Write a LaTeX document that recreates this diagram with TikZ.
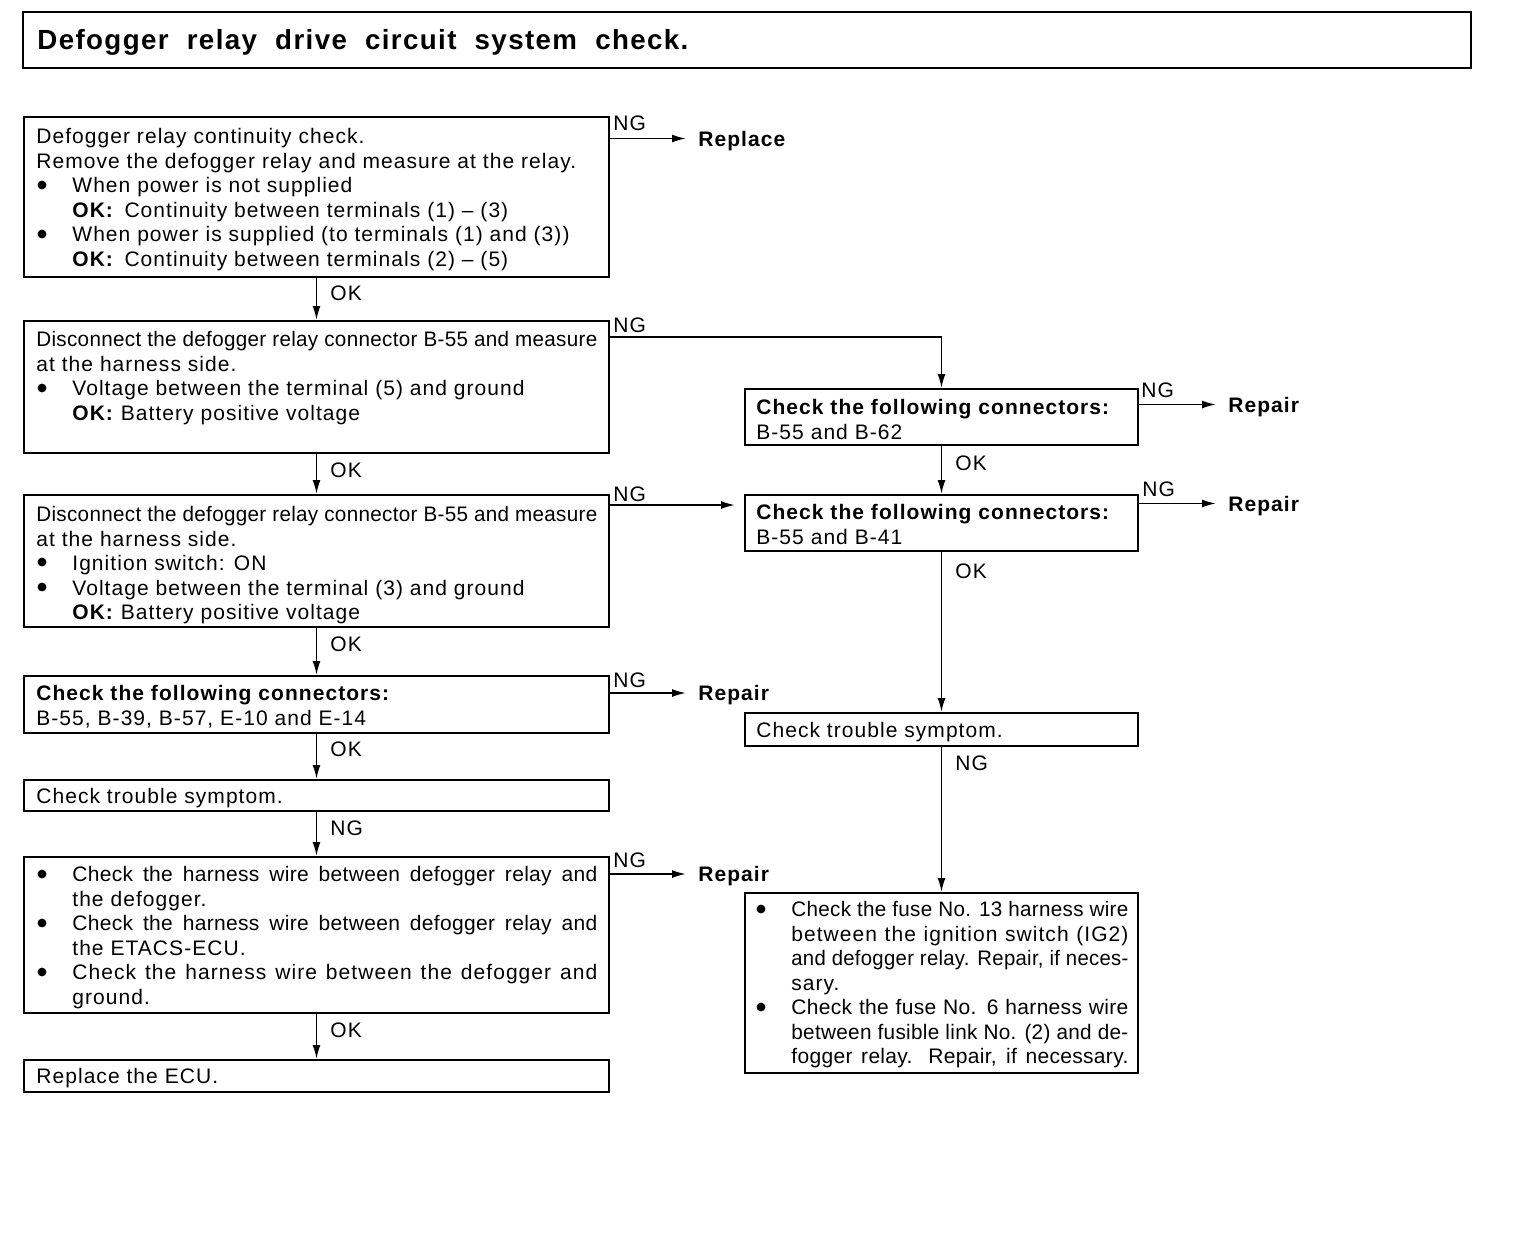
\documentclass[tikz,border=0pt]{standalone}
\usepackage{graphicx}
\usepackage{fontspec}
\setmainfont{Liberation Sans}[LetterSpace=5]
\usetikzlibrary{arrows.meta,fit,calc}
\newcommand\bodyfont{\fontsize{10.5}{12.25}\selectfont}
\newcommand\bul{\hspace*{18pt}}
\newcommand\ind{\hspace*{18pt}}
\newsavebox\jlbox
\newcommand\jl[2]{%
  \sbox\jlbox{#2}%
  \ifdim\wd\jlbox>#1\relax
    \sbox\jlbox{\addfontfeature{LetterSpace=1.5}#2}%
    \ifdim\wd\jlbox>#1\relax \resizebox{#1}{\ht\jlbox}{\usebox\jlbox}%
    \else \makebox[#1][s]{\addfontfeature{LetterSpace=1.5}#2}\fi
  \else\makebox[#1][s]{#2}\fi}
\tikzset{
  box/.style={draw, line width=1pt, inner sep=0pt},
  txt/.style={anchor=north west, inner sep=0pt, align=left, font=\bodyfont},
  arr/.style={line width=0.9pt, -{Latex[length=7pt,width=4pt]}},
  tag/.style={inner sep=0pt, anchor=base west, font=\bodyfont},
  res/.style={inner xsep=6pt, inner ysep=0pt, text height=7.5pt, text depth=0pt, anchor=west, font=\bodyfont\bfseries},
  dot/.style={fill=black},
}
\begin{document}
\begin{tikzpicture}[x=0.5pt, y=-0.5pt]
\useasboundingbox (0,0) rectangle (1536,1232);
% title
\node[box, line width=0.8pt, fit={(23,12) (1471,68)}] (title) {};
\node[inner sep=0pt, anchor=base west, font=\fontsize{13.85}{16}\selectfont\bfseries] (titletext) at (37,49) {Defogger\ \ relay\ \ drive\ \ circuit\ \ system\ \ check.};
% left column boxes
\node[box, line width=1.4pt, fit={(24,117) (609,277)}] (b1) {};
\node[box, fit={(24,321) (609,453)}] (b2) {};
\node[box, fit={(24,495) (609,627)}] (b3) {};
\node[box, fit={(24,676) (609,733)}] (b4) {};
\node[box, fit={(24,780) (609,811)}] (b5) {};
\node[box, fit={(24,857) (609,1013)}] (b6) {};
\node[box, fit={(24,1060) (609,1092)}] (b7) {};
% right column boxes
\node[box, fit={(745,389) (1138,445)}] (r1) {};
\node[box, fit={(745,495) (1138,551)}] (r2) {};
\node[box, fit={(745,713) (1138,746)}] (r3) {};
\node[box, fit={(745,893) (1138,1073)}] (r4) {};
% texts
\node[txt] (t1) at (36,126) {\strut Defogger relay continuity check.\\
Remove the defogger relay and measure at the relay.\\
\bul When power is not supplied\\
\ind\textbf{OK:}\enspace Continuity between terminals (1) – (3)\\
\bul When power is supplied (to terminals (1) and (3))\\
\ind\textbf{OK:}\enspace Continuity between terminals (2) – (5)};
\node[txt] (t2) at (36,329) {\strut\jl{280.5pt}{Disconnect the defogger relay connector B-55 and measure}\\
at the harness side.\\
\bul Voltage between the terminal (5) and ground\\
\ind\textbf{OK:} Battery positive voltage};
\node[txt] (t3) at (36,504) {\strut\jl{280.5pt}{Disconnect the defogger relay connector B-55 and measure}\\
at the harness side.\\
\bul Ignition switch: ON\\
\bul Voltage between the terminal (3) and ground\\
\ind\textbf{OK:} Battery positive voltage};
\node[txt] (t4) at (36,683) {\strut\textbf{Check the following connectors:}\\
B-55, B-39, B-57, E-10 and E-14};
\node[txt] (t5) at (36,786) {\strut Check trouble symptom.};
\node[txt] (t6) at (36,864) {\strut\bul\jl{262.5pt}{Check the harness wire between defogger relay and}\\
\ind the defogger.\\
\bul\jl{262.5pt}{Check the harness wire between defogger relay and}\\
\ind the ETACS-ECU.\\
\bul\jl{262.5pt}{Check the harness wire between the defogger and}\\
\ind ground.};
\node[txt] (t7) at (36,1066) {\strut Replace the ECU.};
\node[txt] (tr1) at (756,397) {\strut\textbf{Check the following connectors:}\\
B-55 and B-62};
\node[txt] (tr2) at (756,502) {\strut\textbf{Check the following connectors:}\\
B-55 and B-41};
\node[txt] (tr3) at (756,720) {\strut Check trouble symptom.};
\node[txt] (tr4) at (755,899) {\strut\bul\jl{168.5pt}{Check the fuse No. 13 harness wire}\\
\ind\jl{168.5pt}{between the ignition switch (IG2)}\\
\ind\jl{168.5pt}{and defogger relay. Repair, if neces-}\\
\ind sary.\\
\bul\jl{168.5pt}{Check the fuse No. 6 harness wire}\\
\ind\jl{168.5pt}{between fusible link No. (2) and de-}\\
\ind\jl{168.5pt}{fogger relay. Repair, if necessary.}};
% bullets
\foreach \bx/\by in {42/185, 42/234, 42/388, 42/562, 42/587, 42/874, 42/923, 42/972, 761/909, 761/1007}
  \fill[dot] (\bx,\by) circle (2.2pt);
% result labels
\node[res] (rep1) at (686,138.5) {Replace};
\node[res] (rep2) at (686,693) {Repair};
\node[res] (rep3) at (686,874) {Repair};
\node[res] (rep4) at (1216,404.5) {Repair};
\node[res] (rep5) at (1216,503.5) {Repair};
% connectors
\draw[arr] (b1.south) -- (b2.north);
\draw[arr] (b2.south) -- (b3.north);
\draw[arr] (b3.south) -- (b4.north);
\draw[arr] (b4.south) -- (b5.north);
\draw[arr] (b5.south) -- (b6.north);
\draw[arr] (b6.south) -- (b7.north);
\draw[arr] (r1.south) -- (r2.north);
\draw[arr] (r2.south) -- (r3.north);
\draw[arr] (r3.south) -- (r4.north);
\draw[arr] (b1.east |- rep1.west) -- (rep1.west);
\draw[arr] (b4.east |- rep2.west) -- (rep2.west);
\draw[arr] (b6.east |- rep3.west) -- (rep3.west);
\draw[arr] (r1.east |- rep4.west) -- (rep4.west);
\draw[arr] (r2.east |- rep5.west) -- (rep5.west);
\coordinate (c2) at ($(b2.north east)+(0,17)$);
\draw[arr] (c2) -| (r1.north);
\coordinate (c3) at ($(b3.north east)+(0,11)$);
\draw[arr, shorten >=4.5pt] (c3) -- (c3 -| r2.west);
% connector tags
\node[tag] (ng1) at (613,130) {NG};
\node[tag] (ng2) at (613,332) {NG};
\node[tag] (ng3) at (613,501) {NG};
\node[tag] (ng4) at (613,687) {NG};
\node[tag] (ng5) at (613,867) {NG};
\node[tag] (ng6) at (1141,397) {NG};
\node[tag] (ng7) at (1142,496) {NG};
\node[tag] (ok1) at (330,300) {OK};
\node[tag] (ok2) at (330,477) {OK};
\node[tag] (ok3) at (330,651) {OK};
\node[tag] (ok4) at (330,756) {OK};
\node[tag] (ng8) at (330,835) {NG};
\node[tag] (ok5) at (330,1037) {OK};
\node[tag] (ok6) at (955,470) {OK};
\node[tag] (ok7) at (955,578) {OK};
\node[tag] (ng9) at (955,770) {NG};
\end{tikzpicture}
\end{document}
